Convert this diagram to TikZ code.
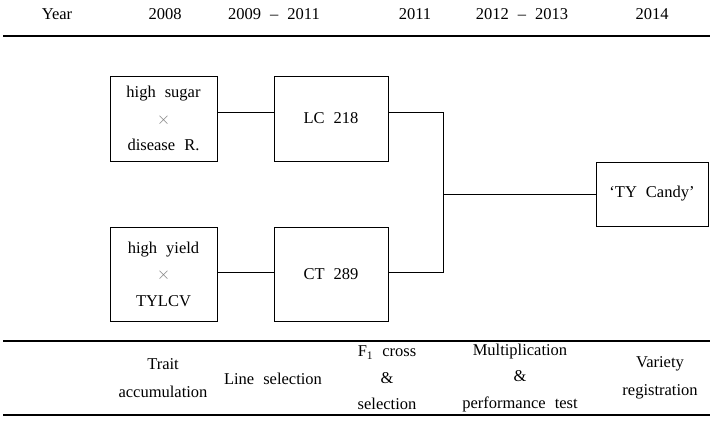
\documentclass[tikz,border=0pt]{standalone}
\usepackage{fontspec}
\setmainfont[WordSpace=2.2]{Liberation Serif}
\begin{document}
\begin{tikzpicture}[x=1pt,y=-1pt,
  every node/.style={font=\fontsize{16.5}{26.5}\selectfont, inner sep=0pt},
  box/.style={draw, line width=0.8pt, align=center, minimum width=107pt},
  rule/.style={line width=1.3pt},
  conn/.style={line width=0.8pt},
  lbl/.style={align=center},
  hdr/.style={anchor=base}]
\useasboundingbox (0,0) rectangle (713,421);
% header
\node[hdr] (hy) at (57,19.5) {Year};
\node[hdr] (h1) at (165,19.5) {2008};
\node[hdr] (h2) at (274,19.5) {2009 – 2011};
\node[hdr] (h3) at (415,19.5) {2011};
\node[hdr] (h4) at (522,19.5) {2012 – 2013};
\node[hdr] (h5) at (652,19.5) {2014};
\draw[rule] (3,36) -- (710,36);
% boxes
\node[box, minimum width=107pt, minimum height=85pt] (b1) at (163.5,118.5)
  {high sugar\\{\color{gray}$\times$}\\disease R.};
\node[box, minimum width=114pt, minimum height=85pt] (lc) at (331,118.5) {LC 218};
\node[box, minimum width=107pt, minimum height=94pt] (b2) at (163.5,274)
  {high yield\\{\color{gray}$\times$}\\TYLCV};
\node[box, minimum width=114pt, minimum height=94pt] (ct) at (331,274) {CT 289};
\node[box, minimum width=112pt, minimum height=64pt] (ty) at (652,194) {‘TY Candy’};
% connectors
\coordinate (j1) at (443,112);
\coordinate (j2) at (443,272);
\coordinate (jm) at (443,194);
\draw[conn] (b1.east |- j1) -- (lc.west |- j1);
\draw[conn] (b2.east |- j2) -- (ct.west |- j2);
\draw[conn] (lc.east |- j1) -- (j1) -- (j2) -- (ct.east |- j2);
\draw[conn] (jm) -- (ty.west |- jm);
% bottom
\draw[rule] (3,341) -- (710,341);
\draw[rule] (3,415) -- (710,415);
\node[lbl, font=\fontsize{16.5}{28}\selectfont] (l1) at (163,378) {Trait\\accumulation};
\node[lbl] (l2) at (273,379) {Line selection};
\node[lbl] (l3) at (387,378) {F\textsubscript{1} cross\\\&\\selection};
\node[lbl] (l4) at (520,378) {Multiplication\\\&\\performance test};
\node[lbl, font=\fontsize{16.5}{28}\selectfont] (l5) at (660,377.5) {Variety\\registration};
\end{tikzpicture}
\end{document}
